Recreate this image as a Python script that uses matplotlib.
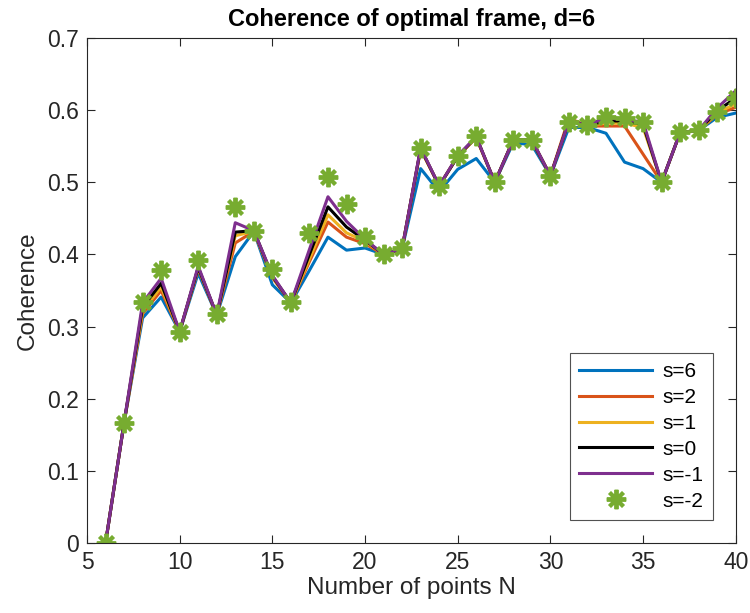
import matplotlib
matplotlib.use("Agg")
import matplotlib.pyplot as plt

N = list(range(6, 41))

s6 = [0.000, 0.1667, 0.312, 0.341, 0.293, 0.374, 0.316, 0.397, 0.432, 0.358,
      0.333, 0.378, 0.424, 0.406, 0.409, 0.400, 0.408, 0.519, 0.487, 0.518,
      0.533, 0.500, 0.555, 0.552, 0.509, 0.576, 0.576, 0.568, 0.528, 0.519,
      0.500, 0.569, 0.572, 0.590, 0.596]
s2 = [0.000, 0.1667, 0.318, 0.350, 0.293, 0.380, 0.316, 0.416, 0.432, 0.368,
      0.333, 0.390, 0.445, 0.424, 0.415, 0.400, 0.408, 0.546, 0.495, 0.536,
      0.562, 0.500, 0.559, 0.558, 0.509, 0.589, 0.578, 0.578, 0.578, 0.539,
      0.500, 0.569, 0.572, 0.594, 0.604]
s1 = [0.000, 0.1667, 0.322, 0.355, 0.293, 0.381, 0.316, 0.426, 0.432, 0.369,
      0.333, 0.394, 0.455, 0.430, 0.418, 0.400, 0.408, 0.546, 0.495, 0.536,
      0.562, 0.500, 0.559, 0.558, 0.509, 0.585, 0.579, 0.582, 0.582, 0.576,
      0.500, 0.569, 0.572, 0.596, 0.609]
s0 = [0.000, 0.1667, 0.327, 0.360, 0.293, 0.382, 0.316, 0.431, 0.433, 0.370,
      0.333, 0.400, 0.466, 0.438, 0.420, 0.400, 0.408, 0.547, 0.495, 0.536,
      0.563, 0.500, 0.559, 0.558, 0.509, 0.585, 0.579, 0.585, 0.585, 0.580,
      0.500, 0.569, 0.572, 0.599, 0.617]
sm1 = [0.000, 0.1667, 0.333, 0.367, 0.293, 0.384, 0.316, 0.444, 0.433, 0.371,
       0.333, 0.407, 0.480, 0.446, 0.421, 0.400, 0.408, 0.548, 0.495, 0.537,
       0.563, 0.500, 0.559, 0.559, 0.509, 0.585, 0.579, 0.590, 0.586, 0.584,
       0.500, 0.569, 0.572, 0.603, 0.627]
sm2 = [0.000, 0.1667, 0.334, 0.378, 0.293, 0.393, 0.317, 0.466, 0.433, 0.380,
       0.334, 0.430, 0.508, 0.470, 0.424, 0.400, 0.409, 0.547, 0.495, 0.537,
       0.564, 0.500, 0.559, 0.559, 0.509, 0.584, 0.579, 0.590, 0.589, 0.584,
       0.500, 0.570, 0.573, 0.597, 0.617]

labels = ["s=6", "s=2", "s=1", "s=0", "s=-1", "s=-2"]
colors = ["#0072BD", "#D95319", "#EDB120", "#000000", "#7E2F8E", "#77AC30"]

plt.rcParams['font.family'] = ['Liberation Sans', 'DejaVu Sans']

fig = plt.figure(figsize=(7.5, 6.13), dpi=100)
ax = fig.add_axes([0.116, 0.114, 0.865, 0.824])

for ys, lab, c in zip([s6, s2, s1, s0, sm1], labels[:5], colors[:5]):
    ax.plot(N, ys, color=c, lw=2.2, label=lab)
ax.plot(N, sm2, linestyle='none', marker=(8, 2, 0), markersize=14,
        markeredgewidth=2.8, color=colors[5], markeredgecolor=colors[5],
        label=labels[5])

ax.set_xlim(5, 40)
ax.set_ylim(0, 0.7)
ax.set_xticks(range(5, 41, 5))
ax.set_yticks([0, 0.1, 0.2, 0.3, 0.4, 0.5, 0.6, 0.7])
ax.set_yticklabels(["0", "0.1", "0.2", "0.3", "0.4", "0.5", "0.6", "0.7"])

gray = "#262626"
for sp in ax.spines.values():
    sp.set_color(gray)
    sp.set_linewidth(0.8)
ax.tick_params(direction='in', top=True, right=True, length=6, width=0.8,
               colors=gray, labelsize=16.5, pad=6)

ax.set_xlabel("Number of points N", fontsize=17.5, color=gray, labelpad=2)
ax.set_ylabel("Coherence", fontsize=17.5, color=gray, labelpad=6)
ax.set_title("Coherence of optimal frame, d=6", fontsize=17, fontweight='bold',
             color='black', pad=9)

leg = ax.legend(loc='lower right', bbox_to_anchor=(0.965, 0.046), fontsize=15,
                frameon=True, fancybox=False, edgecolor=gray, handlelength=3.5,
                borderpad=0.45, labelspacing=0.33, handletextpad=0.5,
                borderaxespad=0)
leg.get_frame().set_linewidth(0.8)

fig.savefig("out.png", dpi=100)
